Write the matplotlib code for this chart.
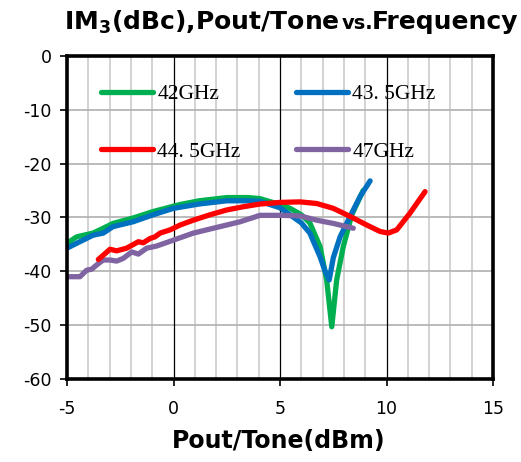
import matplotlib
matplotlib.use("Agg")
import matplotlib.pyplot as plt
from matplotlib.ticker import FixedLocator, FuncFormatter
import numpy as np

# Two-tone IM3 vs. output power per tone, one trace per frequency
x_42 = [-5, -4.55, -3.78, -3.3, -2.84, -1.9, -0.96, 0, 0.3, 1.2, 2.5, 3.5, 4.06,
        5.0, 5.47, 6.0, 6.4, 6.88, 7.19, 7.43, 7.66, 7.97, 8.37, 8.9]
y_42 = [-34.8, -33.6, -32.9, -32.0, -31.1, -30.1, -28.9, -27.9, -27.6, -26.9, -26.3,
        -26.3, -26.5, -27.6, -28.3, -29.5, -31.0, -35.4, -41.6, -50.3, -41.6, -35.4,
        -29.5, -25.0]

x_435 = [-5, -4.55, -3.78, -3.3, -2.84, -1.9, -0.96, 0, 1.2, 2.5, 3.5, 4.06, 5.0,
         5.47, 6.0, 6.4, 6.88, 7.1, 7.31, 7.5, 7.82, 8.29, 8.76, 9.23]
y_435 = [-35.7, -34.8, -33.3, -32.9, -31.7, -30.8, -29.5, -28.3, -27.5, -26.9, -26.9,
         -27.0, -28.2, -29.5, -31.0, -32.9, -37.3, -39.8, -41.6, -37.5, -33.6, -29.8,
         -26.1, -23.2]

x_445 = [-3.53, -2.98, -2.67, -2.2, -1.65, -1.42, -1.1, -0.87, -0.63, -0.16, 0.31,
         0.93, 1.71, 2.5, 3.28, 4.06, 5.0, 5.94, 6.72, 7.5, 8.29, 9.07, 9.7, 10.08,
         10.48, 11.1, 11.81]
y_445 = [-37.8, -35.9, -36.2, -35.7, -34.5, -34.7, -33.9, -33.6, -32.9, -32.3, -31.4,
         -30.5, -29.5, -28.6, -28.0, -27.5, -27.2, -27.1, -27.4, -28.3, -29.8, -31.4,
         -32.6, -32.9, -32.3, -29.2, -25.2]

x_47 = [-5, -4.39, -4.08, -3.84, -3.6, -3.3, -2.98, -2.67, -2.36, -1.96, -1.65,
        -1.26, -0.79, 0, 0.93, 2.18, 3.12, 4.06, 5.0, 5.94, 6.72, 7.5, 8.44]
y_47 = [-41.0, -41.0, -39.8, -39.6, -38.8, -37.9, -37.9, -38.1, -37.6, -36.4, -36.8,
        -35.7, -35.3, -34.2, -32.9, -31.7, -30.8, -29.6, -29.6, -29.7, -30.5, -31.1,
        -32.0]

labels = ["42GHz", "43. 5GHz", "44. 5GHz", "47GHz"]
colors = ["#00B050", "#0070C0", "#FF0000", "#8064A2"]
x_ticks = [-5, 0, 5, 10, 15]
y_ticks = [0, -10, -20, -30, -40, -50, -60]

fig = plt.figure(figsize=(5.21, 4.62), dpi=100)
ax = fig.add_axes([0.1286, 0.1797, 0.8177, 0.6991])
ax.set_xlim(-5, 15)
ax.set_ylim(-60, 0)

# grid: light verticals every 1 dBm, black verticals every 5, gray horizontals
minor_x = [v for v in range(-4, 15) if v % 5 != 0]
major_x = x_ticks[1:-1]
for gx in minor_x:
    ax.axvline(gx, color="#cfcfcf", linewidth=1.3, zorder=0.5)
for gy in y_ticks[1:-1]:
    ax.axhline(gy, color="#b5b5b5", linewidth=1.3, zorder=0.8)
for gx in major_x:
    ax.axvline(gx, color="black", linewidth=0.9, zorder=1)

series = [(x_42, y_42), (x_435, y_435), (x_445, y_445), (x_47, y_47)]
zorders = [3, 4, 6, 5]
handles = []
for (xs, ys), c, lab, z in zip(series, colors, labels, zorders):
    h, = ax.plot(xs, ys, color=c, linewidth=3.8, solid_capstyle="round",
                 solid_joinstyle="round", label=lab, zorder=z)
    handles.append(h)

ax.xaxis.set_major_locator(FixedLocator(x_ticks))
ax.yaxis.set_major_locator(FixedLocator(y_ticks))
plain = FuncFormatter(lambda v, pos: "%d" % round(v))
ax.xaxis.set_major_formatter(plain)
ax.yaxis.set_major_formatter(plain)
ax.tick_params(axis="x", which="major", direction="out", length=5, width=1.2,
               labelsize=12.5, pad=10)
ax.tick_params(axis="y", which="major", direction="out", length=5, width=1.2,
               labelsize=12.5, pad=6)

for sp in ax.spines.values():
    sp.set_linewidth(2.6)
    sp.set_color("black")
    sp.set_zorder(10)

fig.text(0.652, 0.952, r"IM$_\mathbf{3}$(dBc),Pout/Tone", fontsize=18,
         fontweight="bold", ha="right", va="center")
fig.text(0.655, 0.949, "vs.", fontsize=14, fontweight="bold", ha="left", va="center")
fig.text(0.714, 0.952, "Frequency", fontsize=18, fontweight="bold",
         ha="left", va="center")
fig.text(0.5355, 0.045, "Pout/Tone(dBm)", fontsize=17, fontweight="bold",
         ha="center", va="center")

order = [0, 2, 1, 3]
ax.legend([handles[i] for i in order], [labels[i] for i in order], ncol=2,
          loc="upper left", bbox_to_anchor=(0.06, 0.94), frameon=False,
          prop={"family": "Liberation Serif", "size": 15.5},
          handlelength=2.4, handletextpad=0.2, columnspacing=2.6,
          labelspacing=1.75, borderaxespad=0)


def grid_visible():
    """True when the black 0 dBm rule shows near the bottom of the panel."""
    fig.canvas.draw()
    img = np.asarray(fig.canvas.buffer_rgba())
    px, py = ax.transData.transform((0, -55))
    row = int(round(img.shape[0] - py))
    col = int(round(px))
    return img[row, col - 2:col + 3, :3].min() < 120


if not grid_visible():
    # fall back to thin filled strips for the rules
    half = 0.03
    for gx in minor_x:
        ax.axvspan(gx - half, gx + half, color="#cfcfcf", lw=0, zorder=1.5)
    for gy in y_ticks[1:-1]:
        ax.axhspan(gy - 0.09, gy + 0.09, color="#b5b5b5", lw=0, zorder=1.6)
    for gx in major_x:
        ax.axvspan(gx - 0.022, gx + 0.022, color="black", lw=0, zorder=1.7)

fig.savefig("out.png", dpi=100)
